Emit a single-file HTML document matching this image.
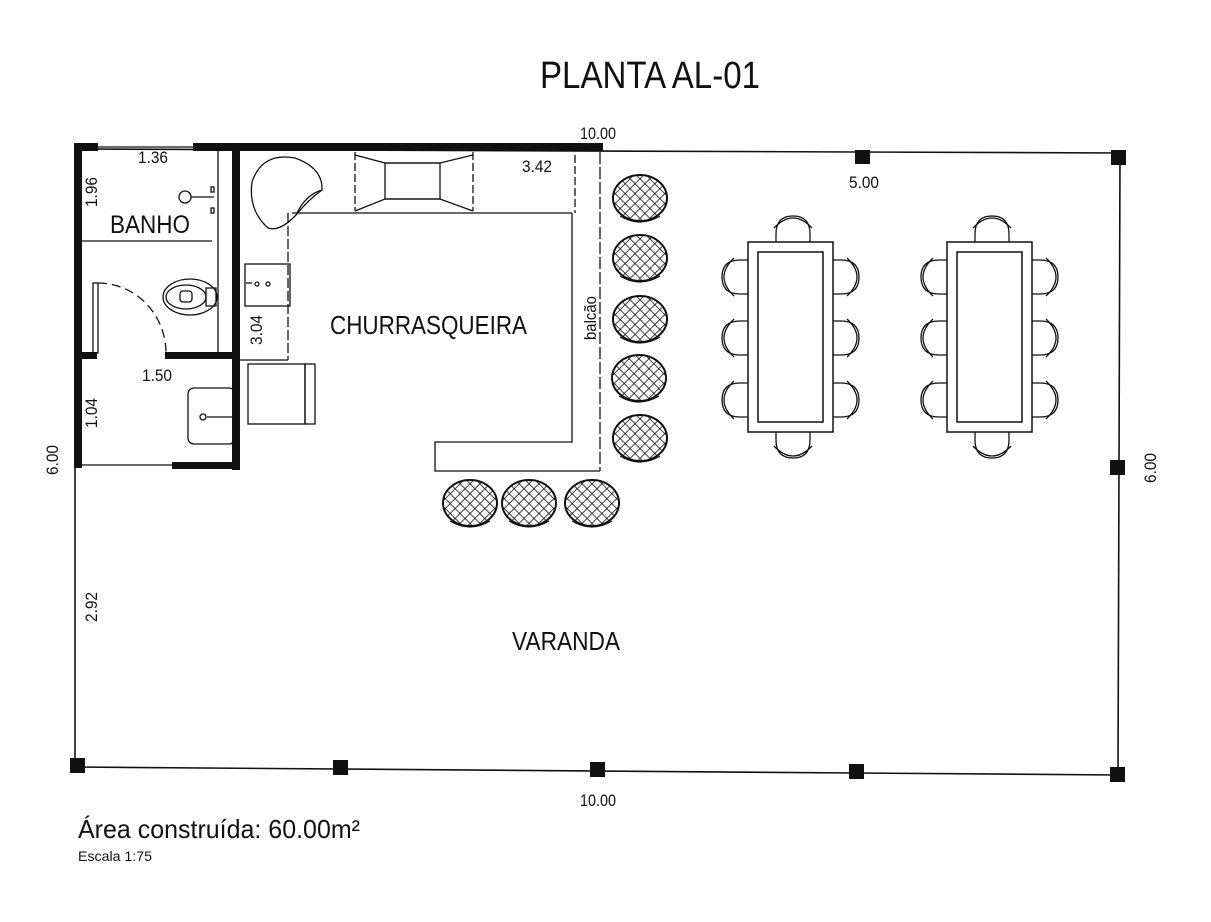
<!DOCTYPE html>
<html><head><meta charset="utf-8"><style>
html,body{margin:0;padding:0;background:#fff;}
svg{display:block;}
text{font-family:"Liberation Sans Narrow","Liberation Sans",sans-serif;fill:#111;}
</style></head><body>
<svg width="1211" height="922" viewBox="0 0 1211 922" xmlns="http://www.w3.org/2000/svg">
<defs>
<pattern id="h" width="7" height="7" patternUnits="userSpaceOnUse" patternTransform="rotate(45)">
<rect width="7" height="7" fill="#fff"/>
<line x1="0" y1="0" x2="0" y2="7" stroke="#111" stroke-width="1.6"/>
<line x1="0" y1="0" x2="7" y2="0" stroke="#111" stroke-width="1.6"/>
</pattern>
<g id="stool"><ellipse cx="0" cy="0" rx="27" ry="23" fill="url(#h)" stroke="#111" stroke-width="2"/><path d="M-20 18 Q0 30 20 18" fill="none" stroke="#111" stroke-width="1.2"/></g>
<g id="chairS"><path d="M-17 0 L-17 -8 Q-17 -26 0 -26 Q17 -26 17 -8 L17 0" fill="none" stroke="#111" stroke-width="1.3"/><path d="M-19 -14 Q0 -34 19 -14" fill="none" stroke="#111" stroke-width="1.3"/></g>
<g id="table">
<rect x="0" y="0" width="85" height="190" fill="none" stroke="#111" stroke-width="1.5"/>
<rect x="10" y="10" width="65" height="170" fill="none" stroke="#111" stroke-width="1.5"/>
<use href="#chairS" x="45" y="0"/>
<use href="#chairS" transform="translate(45 190) rotate(180)"/>
<use href="#chairS" transform="translate(0 35) rotate(-90)"/>
<use href="#chairS" transform="translate(0 96) rotate(-90)"/>
<use href="#chairS" transform="translate(0 158) rotate(-90)"/>
<use href="#chairS" transform="translate(85 35) rotate(90)"/>
<use href="#chairS" transform="translate(85 96) rotate(90)"/>
<use href="#chairS" transform="translate(85 158) rotate(90)"/>
</g>
</defs>

<text x="540" y="88" font-size="38" textLength="220" lengthAdjust="spacingAndGlyphs">PLANTA AL-01</text>

<g stroke="#111" stroke-width="1.6" fill="none">
<line x1="75" y1="149" x2="1120" y2="153"/>
<line x1="75" y1="149" x2="75" y2="767"/>
<line x1="1120" y1="153" x2="1118" y2="775"/>
<line x1="75" y1="767" x2="1118" y2="775"/>
</g>
<g fill="#111">
<rect x="70" y="758" width="15" height="15"/>
<rect x="333" y="760" width="15" height="15"/>
<rect x="590" y="762" width="15" height="15"/>
<rect x="849" y="764" width="15" height="15"/>
<rect x="1110" y="767" width="15" height="15"/>
<rect x="1111" y="150" width="15" height="15"/>
<rect x="855" y="150" width="15" height="14"/>
<rect x="1110" y="460" width="15" height="15"/>
</g>

<g fill="#111">
<rect x="74" y="143" width="8" height="325"/>
<rect x="74" y="143" width="24" height="8"/>
<rect x="193" y="143" width="410" height="8"/>
<rect x="232" y="143" width="8" height="327"/>
<rect x="165" y="352" width="75" height="7"/>
<rect x="74" y="352" width="23" height="7"/>
<rect x="172" y="462" width="68" height="7"/>
</g>
<g stroke="#111" stroke-width="1.3" fill="none">
<line x1="98" y1="147" x2="193" y2="147"/>
<line x1="82" y1="241" x2="212" y2="241"/>
<line x1="218" y1="151" x2="218" y2="352"/>
<line x1="82" y1="465" x2="172" y2="465"/>
<rect x="93" y="283" width="5" height="70"/>
<path d="M98 283 A68 70 0 0 1 166 353" stroke-dasharray="9 5"/>
<circle cx="185" cy="197" r="6"/>
<line x1="191" y1="197" x2="214" y2="197"/>
<rect x="211" y="187" width="3" height="5"/><rect x="211" y="208" width="3" height="5"/>
<ellipse cx="190" cy="297" rx="27" ry="18"/>
<ellipse cx="186" cy="297" rx="20" ry="12"/>
<rect x="206" y="288" width="10" height="18"/>
<rect x="180" y="291" width="12" height="11" rx="3"/>
<rect x="188" y="388" width="47" height="56" rx="6"/>
<line x1="207" y1="417" x2="233" y2="417"/>
<circle cx="203" cy="417" r="3"/>
<path d="M292 213 L572 213" />
<line x1="288" y1="213" x2="288" y2="360" stroke-dasharray="10 3"/>
<line x1="240" y1="360" x2="288" y2="360"/>
<path d="M355 152 L355 211 M473 152 L473 211" stroke-dasharray="8 3"/>
<path d="M355 155 L385 163 L440 163 L473 155 M355 211 L385 199 L440 199 L473 211"/>
<rect x="385" y="163" width="55" height="36"/>
<line x1="575" y1="155" x2="575" y2="213" stroke-dasharray="8 3"/>
<path d="M268 228 Q248 210 252 182 Q262 152 295 158 Q323 168 322 190 Q308 200 296 215 Q280 232 268 228 Z"/>
<path d="M296 215 Q305 195 322 190"/>
<rect x="245" y="264" width="45" height="42"/>
<line x1="246" y1="283" x2="252" y2="283"/><circle cx="257" cy="284" r="2"/>
<circle cx="268" cy="284" r="2"/>
<rect x="248" y="364" width="57" height="60"/>
<rect x="305" y="364" width="10" height="60"/>
<path d="M572 213 L572 442 L435 442 L435 471 L600 471" />
<line x1="600" y1="152" x2="600" y2="471" stroke-dasharray="12 3"/>
</g>

<use href="#stool" x="640" y="198"/>
<use href="#stool" x="640" y="258"/>
<use href="#stool" x="640" y="319"/>
<use href="#stool" x="639" y="378"/>
<use href="#stool" x="640" y="438"/>
<use href="#stool" x="470" y="503"/>
<use href="#stool" x="529" y="503"/>
<use href="#stool" x="592" y="503"/>

<use href="#table" x="748" y="242"/>
<use href="#table" x="947" y="242"/>

<text x="598" y="139" font-size="17" text-anchor="middle" textLength="36" lengthAdjust="spacingAndGlyphs">10.00</text>
<text x="864" y="188" font-size="17" text-anchor="middle" textLength="30" lengthAdjust="spacingAndGlyphs">5.00</text>
<text x="153" y="163" font-size="17" text-anchor="middle" textLength="30" lengthAdjust="spacingAndGlyphs">1.36</text>
<text x="537" y="172" font-size="17" text-anchor="middle" textLength="30" lengthAdjust="spacingAndGlyphs">3.42</text>
<text x="157" y="381" font-size="17" text-anchor="middle" textLength="30" lengthAdjust="spacingAndGlyphs">1.50</text>
<text x="110" y="233" font-size="25" textLength="80" lengthAdjust="spacingAndGlyphs">BANHO</text>
<text x="330" y="334" font-size="26" textLength="197" lengthAdjust="spacingAndGlyphs">CHURRASQUEIRA</text>
<text x="512" y="650" font-size="26" textLength="108" lengthAdjust="spacingAndGlyphs">VARANDA</text>
<text transform="translate(97 192) rotate(-90)" font-size="17" text-anchor="middle" textLength="30" lengthAdjust="spacingAndGlyphs">1.96</text>
<text transform="translate(262 330) rotate(-90)" font-size="17" text-anchor="middle" textLength="30" lengthAdjust="spacingAndGlyphs">3.04</text>
<text transform="translate(97 413) rotate(-90)" font-size="17" text-anchor="middle" textLength="30" lengthAdjust="spacingAndGlyphs">1.04</text>
<text transform="translate(596 318) rotate(-90)" font-size="17" text-anchor="middle" textLength="44" lengthAdjust="spacingAndGlyphs">balcão</text>
<text transform="translate(58 460) rotate(-90)" font-size="17" text-anchor="middle" textLength="30" lengthAdjust="spacingAndGlyphs">6.00</text>
<text transform="translate(1156 468) rotate(-90)" font-size="17" text-anchor="middle" textLength="30" lengthAdjust="spacingAndGlyphs">6.00</text>
<text transform="translate(97 607) rotate(-90)" font-size="17" text-anchor="middle" textLength="30" lengthAdjust="spacingAndGlyphs">2.92</text>
<text x="598" y="806" font-size="17" text-anchor="middle" textLength="36" lengthAdjust="spacingAndGlyphs">10.00</text>
<text x="78" y="838" font-size="26" textLength="282" lengthAdjust="spacingAndGlyphs">Área construída: 60.00m²</text>
<text x="78" y="861" font-size="14" textLength="74" lengthAdjust="spacingAndGlyphs">Escala 1:75</text>
</svg>
</body></html>
